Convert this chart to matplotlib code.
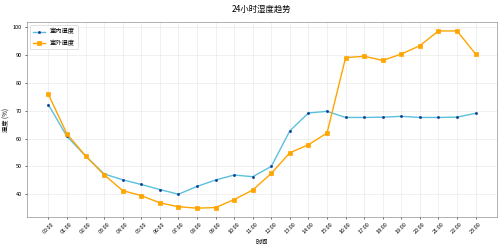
import matplotlib
matplotlib.use("Agg")
import matplotlib.pyplot as plt

plt.rcParams['font.family'] = ['Noto Sans CJK SC', 'DejaVu Sans']
plt.rcParams['axes.unicode_minus'] = False

hours = ["%02d:00" % h for h in range(24)]
indoor = [72.2, 60.8, 53.8, 47.3, 45.2, 43.5, 41.7, 40.0, 42.8, 45.1, 46.9, 46.3,
          50.0, 62.8, 69.2, 69.8, 67.6, 67.6, 67.7, 68.0, 67.6, 67.6, 67.7, 69.1]
outdoor = [75.9, 61.7, 53.8, 47.0, 41.3, 39.5, 36.9, 35.5, 35.0, 35.2, 38.1, 41.5,
           47.5, 54.9, 57.8, 62.0, 89.1, 89.6, 88.1, 90.4, 93.4, 98.7, 98.7, 90.4]

fig, ax = plt.subplots(figsize=(10, 4.96), dpi=50)
fig.subplots_adjust(left=0.054, right=0.994, top=0.911, bottom=0.125)

x = range(len(hours))
ax.plot(x, indoor, color='#5bc0de', linewidth=2, marker='o', markersize=3,
        markerfacecolor='#0b3d91', markeredgecolor='#0b3d91', label='室内湿度')
ax.plot(x, outdoor, color='#ffa500', linewidth=2, marker='s', markersize=5,
        label='室外湿度')

ax.set_xticks(list(x))
ax.set_xticklabels(hours, rotation=45, fontsize=8)
ax.tick_params(axis='y', labelsize=8)
ax.set_title('24小时湿度趋势', fontsize=12, pad=14)
ax.set_xlabel('时间', fontsize=9)
ax.set_ylabel('湿度 (%)', fontsize=9)
ax.grid(True, alpha=0.3)
ax.legend(loc='upper left', fontsize=9)
for s in ax.spines.values():
    s.set_color('#777777')

fig.savefig('out.png', dpi=50)
